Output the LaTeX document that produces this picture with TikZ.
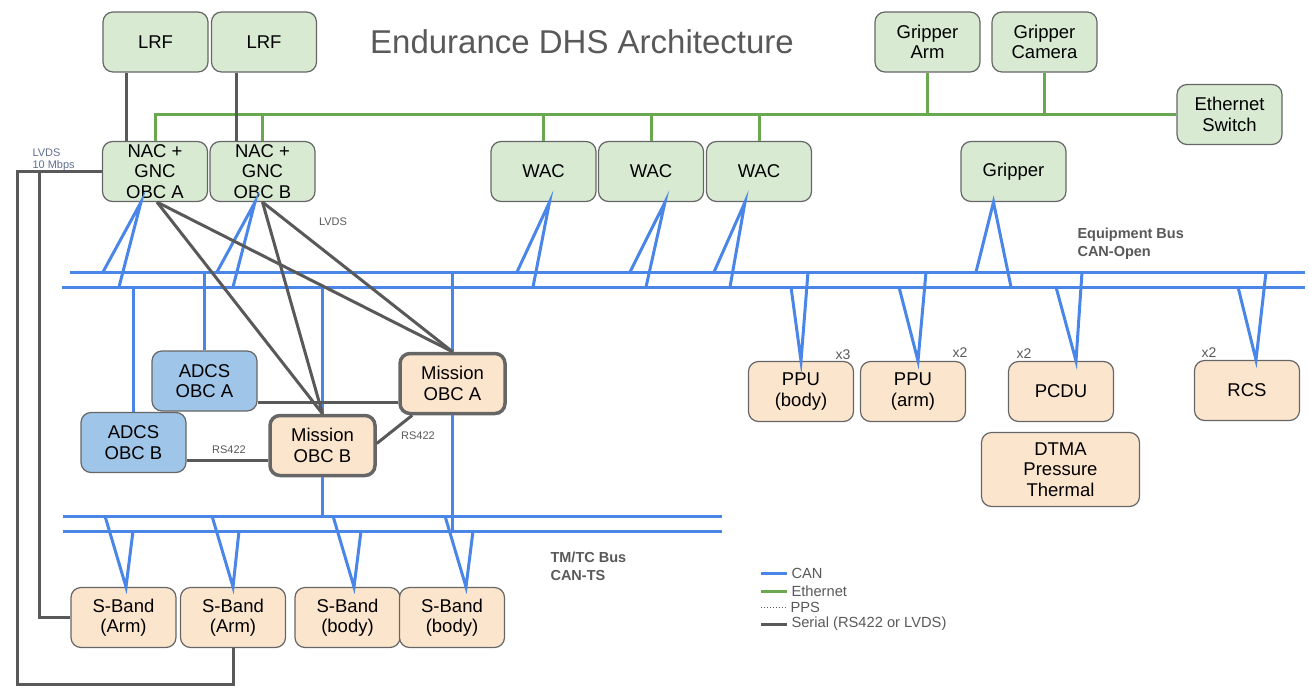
\documentclass[tikz,border=0pt]{standalone}
\usepackage{fontspec}
\setmainfont{Liberation Sans}
\usetikzlibrary{positioning, calc}

\definecolor{boxgreen}{HTML}{D9EAD3}
\definecolor{boxblue}{HTML}{9FC5E8}
\definecolor{boxorange}{HTML}{FCE5CD}
\definecolor{canblue}{HTML}{4A86E8}
\definecolor{ethgreen}{HTML}{6AA84F}
\definecolor{serialgray}{HTML}{595959}
\definecolor{bordergray}{HTML}{666666}
\definecolor{slate}{HTML}{5F6F8F}

\begin{document}
\begin{tikzpicture}[
    x=1pt, y=-1pt,
    box/.style={draw=bordergray, line width=1.2pt, rounded corners=10pt, minimum width=105pt, minimum height=60pt, align=center, inner sep=0pt, font=\fontsize{18.5}{20.5}\selectfont},
    eqbox/.style={box, fill=boxgreen},
    adcsbox/.style={box, fill=boxblue},
    unitbox/.style={box, fill=boxorange},
    missionbox/.style={unitbox, line width=3.5pt},
    can/.style={canblue, line width=3pt},
    eth/.style={ethgreen, line width=3pt},
    serial/.style={serialgray, line width=3pt},
    pps/.style={serialgray, line width=1pt, dotted},
    buslabel/.style={font=\fontsize{14.5}{18}\selectfont\bfseries, text=serialgray, align=left, anchor=west},
    tag/.style={font=\fontsize{11}{12.5}\selectfont, text=serialgray, align=left},
    count/.style={font=\fontsize{14}{16}\selectfont, text=serialgray, anchor=base},
    legendtext/.style={font=\fontsize{14.7}{16}\selectfont, text=serialgray, right, inner sep=3pt}
]
\useasboundingbox (0,0) rectangle (1309,699);

% title
\node[font=\fontsize{33}{38}\selectfont, text=serialgray] (title) at (582,42) {Endurance DHS Architecture};

% top row
\node[eqbox] (lrfA) at (155.5,42) {LRF};
\node[eqbox] (lrfB) at (264,42) {LRF};
\node[eqbox] (grArm) at (927.5,42) {Gripper\\Arm};
\node[eqbox] (grCam) at (1044.5,42) {Gripper\\Camera};
\node[eqbox] (ethSw) at (1229.5,114.5) {Ethernet\\Switch};

% cameras and computers
\node[eqbox] (nacA) at (155,171.5) {NAC +\\GNC\\OBC A};
\node[eqbox] (nacB) at (262.5,171.5) {NAC +\\GNC\\OBC B};
\node[eqbox] (wacA) at (543.5,171.5) {WAC};
\node[eqbox] (wacB) at (651,171.5) {WAC};
\node[eqbox] (wacC) at (759,171.5) {WAC};
\node[eqbox] (gripper) at (1013.5,171.5) {Gripper};

\node[adcsbox] (adcsA) at (204.5,381) {ADCS\\OBC A};
\node[adcsbox] (adcsB) at (133.5,442.5) {ADCS\\OBC B};
\node[missionbox] (misA) at (452.5,383.5) {Mission\\OBC A};
\node[missionbox] (misB) at (322.5,445.5) {Mission\\OBC B};

% equipment
\node[unitbox] (ppuBody) at (801,391.5) {PPU\\(body)};
\node[unitbox] (ppuArm) at (913,391.5) {PPU\\(arm)};
\node[unitbox] (pcdu) at (1061,391.5) {PCDU};
\node[unitbox, minimum width=158pt, minimum height=74pt] (dtma) at (1060.5,469.5) {DTMA\\Pressure\\Thermal};
\node[unitbox] (rcs) at (1247,390.5) {RCS};

\node[count] (nPpuBody) at (843,359) {x3};
\node[count] (nPpuArm) at (960,357) {x2};
\node[count] (nPcdu) at (1024,358) {x2};
\node[count] (nRcs) at (1209,357) {x2};

% radios
\node[unitbox] (sbArmA) at (123.5,617.5) {S-Band\\(Arm)};
\node[unitbox] (sbArmB) at (233,617.5) {S-Band\\(Arm)};
\node[unitbox] (sbBodyA) at (347.5,617.5) {S-Band\\(body)};
\node[unitbox] (sbBodyB) at (452,617.5) {S-Band\\(body)};

% ethernet
\draw[eth] (nacA.north) |- (ethSw.west);
\foreach \n in {nacB, wacA, wacB, wacC}
    \draw[eth] (\n.north) -- (\n.north |- ethSw.west);
\foreach \n in {grArm, grCam}
    \draw[eth] (\n.south) -- (\n.south |- ethSw.west);

% buses
\coordinate (eqU) at (70,272);
\coordinate (eqL) at (62,287);
\coordinate (tmU) at (63,516);
\coordinate (tmL) at (63,531);
\draw[can] (eqU) -- (1305,0 |- eqU);
\draw[can] (eqL) -- (1305,0 |- eqL);
\draw[can] (tmU) -- (722,0 |- tmU);
\draw[can] (tmL) -- (722,0 |- tmL);

\foreach \n/\s/\u/\l in {nacA/-14/103/119, nacB/-7.5/217/233, wacA/6/517/533, wacB/14/630/646, wacC/-14/714/730, gripper/-20/976/1011}
    \draw[can] (\u,0 |- eqU) -- ([xshift=\s pt]\n.south) -- (\l,0 |- eqL);
\foreach \n/\s/\u/\l in {ppuBody/0/808/791, ppuArm/5/926/899, pcdu/15/1082/1056, rcs/9/1266/1238}
    \draw[can] (\u,0 |- eqU) -- ([xshift=\s pt]\n.north) -- (\l,0 |- eqL);
\foreach \n/\s/\u/\l in {sbArmA/2.5/105/133, sbArmB/0/212/239, sbBodyA/6.5/333/361, sbBodyB/14/445/473}
    \draw[can] (\u,0 |- tmU) -- ([xshift=\s pt]\n.north) -- (\l,0 |- tmL);

\draw[can] (adcsB.north) -- (adcsB.north |- eqL);
\draw[can] (adcsA.north) -- (adcsA.north |- eqU);
\draw[can] (misB.north |- eqL) -- (misB.north);
\draw[can] (misA.north |- eqU) -- (misA.north);
\draw[can] (misB.south) -- (misB.south |- tmU);
\draw[can] (misA.south) -- (misA.south |- tmL);

% serial links
\draw[serial] ([xshift=-29pt]nacA.north) -- ([xshift=-29pt]nacA.north |- lrfA.south);
\draw[serial] ([xshift=-26.5pt]nacB.north) -- ([xshift=-26.5pt]nacB.north |- lrfB.south);
\draw[serial] ([xshift=2pt]nacA.south) -- (misB.north);
\draw[serial] ([xshift=2pt]nacA.south) -- (misA.north);
\draw[serial] (nacB.south) -- (misB.north);
\draw[serial] (nacB.south) -- (misA.north);
\draw[serial] ([yshift=-21pt]adcsA.east) -- ([yshift=-21pt]adcsA.east -| misA.west);
\draw[serial] ([yshift=-17.5pt]adcsB.east) -- ([yshift=-17.5pt]adcsB.east -| misB.west);
\draw[serial] ([yshift=2pt]misB.east) -- ([xshift=14pt]misA.south west);

\coordinate (loopSW) at (17,684);
\coordinate (tapA) at (39,171.5);
\draw[serial] (nacA.west) -| (loopSW) -| (sbArmB.south);
\draw[serial] (tapA) |- (sbArmA.west);

\node[tag, text=slate, anchor=north west] (lvdsFast) at (29,145) {LVDS\\10 Mbps};
\node[tag] (lvdsTag) at (333,222) {LVDS};
\node[tag] (rsB) at (229,450) {RS422};
\node[tag] (rsA) at (418,436) {RS422};

% bus names
\node[buslabel] (eqName) at (1074,244) {Equipment Bus\\CAN-Open};
\node[buslabel] (tmName) at (547,566) {TM/TC Bus\\CAN-TS};

% legend
\coordinate (legCan) at (761,573);
\coordinate (legEth) at (761,591);
\coordinate (legPps) at (761,607);
\coordinate (legSer) at (761,624);
\draw[can] (legCan) -- ++(26,0) node[legendtext] {CAN};
\draw[eth] (legEth) -- ++(26,0) node[legendtext] {Ethernet};
\draw[pps] (legPps) -- ++(26,0) node[legendtext] {PPS};
\draw[serial] (legSer) -- ++(26,0) node[legendtext] {Serial (RS422 or LVDS)};

\end{tikzpicture}
\end{document}
